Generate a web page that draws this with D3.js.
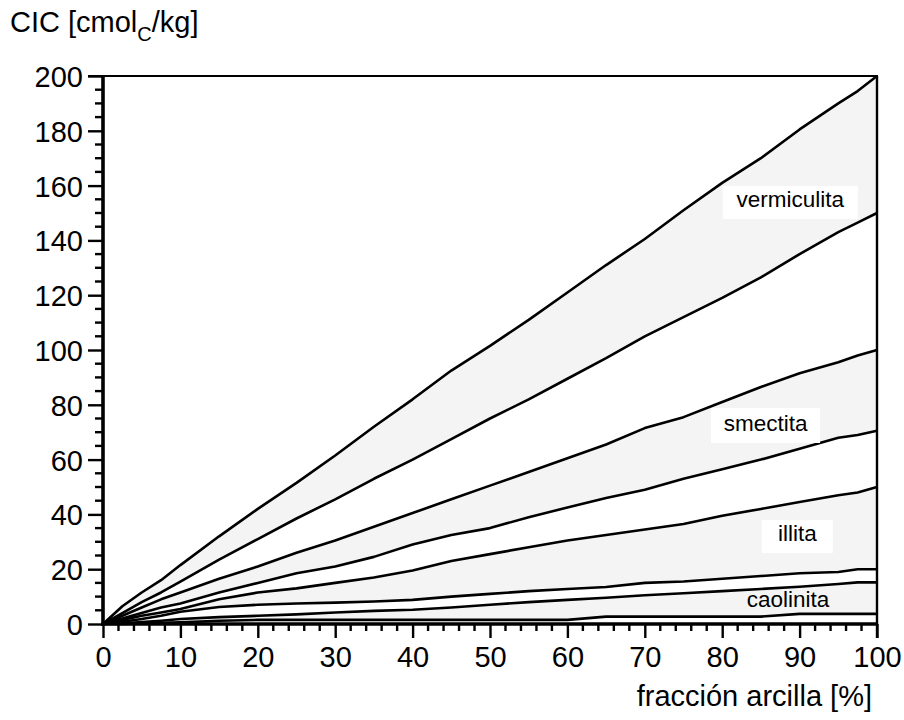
<!DOCTYPE html>
<html>
<head>
<meta charset="utf-8">
<script src="https://cdn.jsdelivr.net/npm/d3@7"></script>
<style>
  body { margin: 0; background: #fff; }
  text { font-family: "Liberation Sans", Arial, Helvetica, sans-serif; fill: #000; }
</style>
</head>
<body>
<svg id="chart" width="904" height="720"></svg>
<script>

// clay fraction [%] (shared x grid for all curves)
var fraccion = [0, 2.5, 5, 7.5, 10, 15, 20, 25, 30, 35, 40, 45, 50, 55, 60, 65, 70, 75, 80, 85, 90, 95, 97.5, 100];

// CEC [cmolc/kg], upper and lower limits per clay mineral
var vermiculitaMax = [0, 6.5, 11.5, 16, 21.5, 32, 42, 51.5, 61.5, 72, 82, 92.5, 101.5, 111, 121, 131, 140.5, 151, 161, 170, 180.5, 190, 194.5, 200];
var vermiculitaMin = [0, 4, 8, 11.5, 15.5, 23.5, 31, 38.5, 45.5, 53, 60, 67.5, 75, 82, 89.5, 97, 105, 112, 119, 126.5, 135, 143, 146.5, 150];
var smectitaMax = [0, 3, 6, 9, 11.5, 16.5, 21, 26, 30.5, 35.5, 40.5, 45.5, 50.5, 55.5, 60.5, 65.5, 71.5, 75.5, 81, 86.5, 91.5, 95.5, 98, 100];
var smectitaMin = [0, 2, 4, 6, 7.5, 11.5, 15, 18.5, 21, 24.5, 29, 32.5, 35, 39, 42.5, 46, 49, 53, 56.5, 60, 64, 68, 69, 70.5];
var illitaMax = [0, 1.5, 3, 4.2, 5.5, 9, 11.5, 13, 15, 17, 19.5, 23, 25.5, 28, 30.5, 32.5, 34.5, 36.5, 39.5, 42, 44.5, 47, 48, 50];
var illitaMin = [0, 0.8, 1.8, 3, 4.5, 6.2, 7, 7.5, 7.8, 8.2, 8.8, 10, 11, 12, 12.8, 13.5, 15, 15.5, 16.5, 17.5, 18.5, 19, 20, 20];
var caolinitaMax = [0, 0.3, 0.7, 1.2, 1.8, 2.5, 3, 3.5, 4.2, 4.8, 5.2, 6, 7, 8, 8.8, 9.6, 10.5, 11.2, 12, 12.8, 13.6, 14.6, 15.2, 15.2];
var caolinitaMin = [0, 0, 0.2, 0.4, 0.6, 1.2, 1.5, 1.5, 1.5, 1.5, 1.5, 1.5, 1.5, 1.5, 1.5, 2.7, 2.7, 2.7, 2.7, 2.7, 3.7, 3.7, 3.7, 3.7];

var xTicks = [0, 10, 20, 30, 40, 50, 60, 70, 80, 90, 100];
var yTicks = [0, 20, 40, 60, 80, 100, 120, 140, 160, 180, 200];

var svg = d3.select('#chart');

var plotLeft = 103, plotRight = 877, plotTop = 76, plotBottom = 624;

var x = d3.scaleLinear().domain([0, 100]).range([plotLeft, plotRight]);
var y = d3.scaleLinear().domain([0, 200]).range([plotBottom, plotTop]);

var bands = [
  { name: 'vermiculita', upper: vermiculitaMax, lower: vermiculitaMin },
  { name: 'smectita', upper: smectitaMax, lower: smectitaMin },
  { name: 'illita', upper: illitaMax, lower: illitaMin },
  { name: 'caolinita', upper: caolinitaMax, lower: caolinitaMin }
];

var area = d3.area()
  .x(function(d) { return x(d.x); })
  .y0(function(d) { return y(d.lo); })
  .y1(function(d) { return y(d.hi); });

var line = d3.line()
  .x(function(d) { return x(d[0]); })
  .y(function(d) { return y(d[1]); });

function zipBand(b) {
  return fraccion.map(function(v, i) { return { x: v, lo: b.lower[i], hi: b.upper[i] }; });
}
function zipLine(vals) {
  return fraccion.map(function(v, i) { return [v, vals[i]]; });
}

// shaded bands
svg.append('g').selectAll('path')
  .data(bands)
  .enter()
  .append('path')
  .attr('d', function(b) { return area(zipBand(b)); })
  .attr('fill', '#f4f4f4');

// limit curves
var curves = [];
bands.forEach(function(b) { curves.push(b.upper, b.lower); });
svg.append('g').selectAll('path')
  .data(curves)
  .enter()
  .append('path')
  .attr('d', function(c) { return line(zipLine(c)); })
  .attr('fill', 'none')
  .attr('stroke', '#000')
  .attr('stroke-width', 2.6)
  .attr('stroke-linejoin', 'round');

// labels
function label(text, cx, baseline, w, h, boxed) {
  var g = svg.append('g');
  if (boxed) {
    g.append('rect')
      .attr('x', cx - w / 2).attr('y', baseline - h + 12)
      .attr('width', w).attr('height', h)
      .attr('fill', '#fff');
  }
  g.append('text')
    .attr('x', cx).attr('y', baseline)
    .attr('text-anchor', 'middle')
    .style('font-size', '22.5px')
    .text(text);
}
label('vermiculita', x(88.8), 207, 135, 33, true);
label('smectita', x(85.6), 431, 109, 35, true);
label('illita', x(89.7), 541, 71, 33, true);
label('caolinita', x(88.5), 607, 0, 0, false);

// frame: top and right
svg.append('line')
  .attr('x1', plotLeft - 15).attr('x2', plotRight + 1)
  .attr('y1', plotTop).attr('y2', plotTop)
  .attr('stroke', '#000').attr('stroke-width', 2.2);
svg.append('line')
  .attr('x1', plotRight).attr('x2', plotRight)
  .attr('y1', plotTop).attr('y2', plotBottom + 14)
  .attr('stroke', '#000').attr('stroke-width', 2.4);

// y axis
var yAxis = d3.axisLeft(y).tickValues(yTicks).tickSize(15).tickPadding(5);
var yg = svg.append('g').attr('transform', 'translate(' + plotLeft + ',0)').call(yAxis);
yg.select('.domain').remove();
yg.selectAll('.tick line').attr('stroke-width', 2.4);
yg.selectAll('.tick text').style('font-size', '29px').attr('dy', '0.36em')
  .style('font-family', '"Liberation Sans", Arial, sans-serif');

var yMinor = d3.range(0, 201, 5).filter(function(v) { return v % 20 !== 0; });
svg.append('g').selectAll('line')
  .data(yMinor)
  .enter()
  .append('line')
  .attr('x1', plotLeft - 8).attr('x2', plotLeft)
  .attr('y1', function(d) { return y(d); }).attr('y2', function(d) { return y(d); })
  .attr('stroke', '#000').attr('stroke-width', 2.4);

// x axis
var xAxis = d3.axisBottom(x).tickValues(xTicks).tickSize(14).tickPadding(8);
var xg = svg.append('g').attr('transform', 'translate(0,' + plotBottom + ')').call(xAxis);
xg.select('.domain').remove();
xg.selectAll('.tick line').attr('stroke-width', 2.4);
xg.selectAll('.tick text').style('font-size', '29px').attr('dy', '0.71em')
  .style('font-family', '"Liberation Sans", Arial, sans-serif');

var xMinor = d3.range(0, 101, 2).filter(function(v) { return v % 10 !== 0; });
svg.append('g').selectAll('line')
  .data(xMinor)
  .enter()
  .append('line')
  .attr('x1', function(d) { return x(d); }).attr('x2', function(d) { return x(d); })
  .attr('y1', plotBottom).attr('y2', plotBottom + 7)
  .attr('stroke', '#000').attr('stroke-width', 2.4);

// thick axis lines
svg.append('line')
  .attr('x1', plotLeft).attr('x2', plotLeft)
  .attr('y1', plotTop - 1).attr('y2', plotBottom + 2)
  .attr('stroke', '#000').attr('stroke-width', 3.6);
svg.append('line')
  .attr('x1', plotLeft - 2).attr('x2', plotRight + 1)
  .attr('y1', plotBottom).attr('y2', plotBottom)
  .attr('stroke', '#000').attr('stroke-width', 3.6);

// axis titles
var yt = svg.append('text').attr('x', 10).attr('y', 32).style('font-size', '29px');
yt.append('tspan').text('CIC [cmol');
yt.append('tspan').attr('dy', 9).style('font-size', '20px').text('C');
yt.append('tspan').attr('dy', -9).text('/kg]');

svg.append('text')
  .attr('x', 872).attr('y', 706)
  .attr('text-anchor', 'end')
  .style('font-size', '29px')
  .text('fracción arcilla [%]');

</script>
</body>
</html>
